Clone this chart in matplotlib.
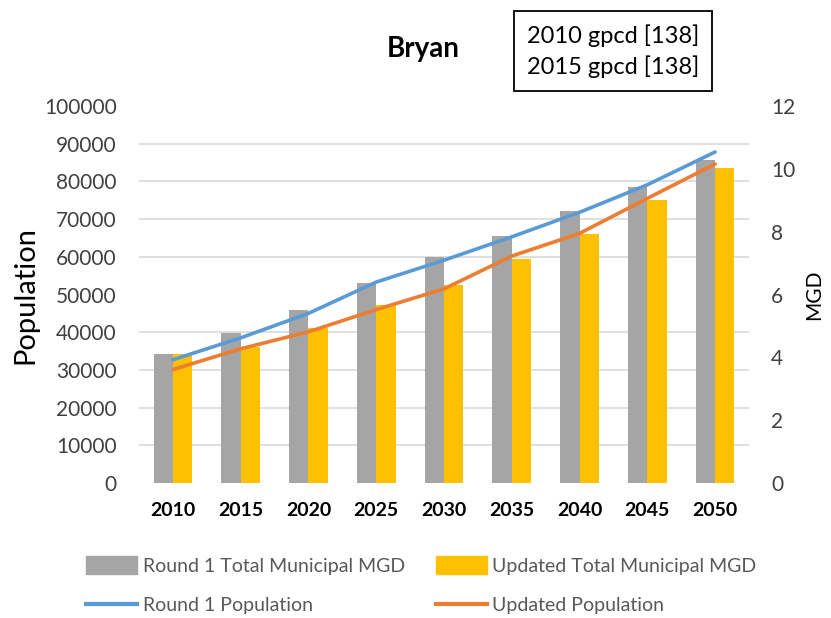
import numpy as np
import matplotlib.pyplot as plt
from matplotlib.ticker import MultipleLocator
from matplotlib.patches import Patch
from matplotlib.lines import Line2D

plt.rcParams['font.family'] = ['Lato', 'DejaVu Sans']

years = ['2010', '2015', '2020', '2025', '2030', '2035', '2040', '2045', '2050']
round1_mgd = [4.1, 4.77, 5.51, 6.37, 7.18, 7.87, 8.66, 9.43, 10.29]
updated_mgd = [4.1, 4.33, 4.93, 5.66, 6.31, 7.14, 7.94, 9.01, 10.02]
round1_pop = [32700, 38500, 45000, 53300, 59100, 65300, 71800, 79100, 87800]
updated_pop = [30100, 35600, 40100, 46000, 51500, 60200, 66200, 75500, 84600]

gray = '#A5A5A5'
yellow = '#FFC000'
blue = '#5B9BD5'
orange = '#ED7D31'
txt = '#404040'

fig = plt.figure(figsize=(8.31, 6.18), dpi=100)
ax = fig.add_axes([0.1673, 0.2184, 0.734, 0.6101])
ax2 = ax.twinx()
x = np.arange(len(years))
w = 0.285

# bars on MGD axis (right side)
ax.bar(x - w / 2, round1_mgd, w, color=gray, zorder=2)
ax.bar(x + w / 2, updated_mgd, w, color=yellow, zorder=2)
ax.set_ylim(0, 12)
ax.set_xlim(-0.5, len(years) - 0.5)
ax.set_yticks(range(0, 13, 2))
ax.yaxis.tick_right()
ax.yaxis.set_label_position('right')
ax.yaxis.set_minor_locator(MultipleLocator(1.2))
ax.grid(axis='y', which='minor', color='#D9D9D9', lw=1.2, zorder=0)
ax.set_axisbelow(True)
ax.tick_params(axis='y', which='both', length=0, labelsize=15, labelcolor=txt, pad=16)
ax.set_ylabel('MGD', fontsize=15, color='black', labelpad=6)
ax.set_xticks(x)
ax.set_xticklabels(years, fontsize=14, fontweight='bold')
ax.tick_params(axis='x', length=0, pad=14)

# population lines on left axis
ax2.plot(x, round1_pop, color=blue, lw=2.6, solid_capstyle='round')
ax2.plot(x, updated_pop, color=orange, lw=2.6, solid_capstyle='round')
ax2.set_ylim(0, 100000)
ax2.set_yticks(range(0, 100001, 10000))
ax2.yaxis.set_ticks_position('left')
ax2.yaxis.set_label_position('left')
ax2.tick_params(axis='y', length=0, labelsize=15, labelcolor=txt, pad=16)
ax2.set_ylabel('Population', fontsize=21, labelpad=4)

for a in (ax, ax2):
    for s in a.spines.values():
        s.set_visible(False)

fig.text(0.509, 0.92, 'Bryan', fontsize=20, fontweight='bold', ha='center', va='center')
fig.text(0.7375, 0.917, '2010 gpcd [138]\n2015 gpcd [138]', fontsize=17, ha='center', va='center',
         linespacing=1.45,
         bbox=dict(boxstyle='square,pad=0.55', fc='white', ec='black', lw=1.3))

handles = [Patch(color=gray), Line2D([], [], color=blue, lw=3),
           Patch(color=yellow), Line2D([], [], color=orange, lw=3)]
labels = ['Round 1 Total Municipal MGD', 'Round 1 Population',
          'Updated Total Municipal MGD', 'Updated Population']
fig.legend(handles, labels, ncol=2, loc='upper left', bbox_to_anchor=(0.104, 0.1),
           frameon=False, fontsize=14, labelcolor='#595959', handlelength=2.6,
           handleheight=1.0, columnspacing=1.6, handletextpad=0.3, labelspacing=1.1,
           borderaxespad=0, borderpad=0)

fig.savefig('out.png', dpi=100)
